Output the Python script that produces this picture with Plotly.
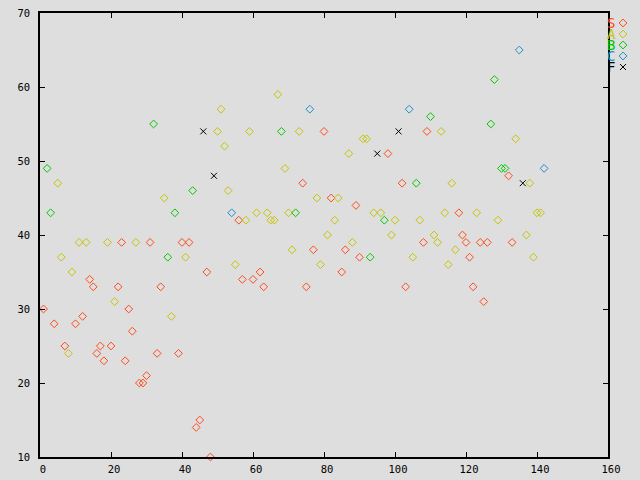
import plotly.graph_objects as go

# ---- data ----
s_x = [1, 4, 7, 10, 12, 14, 15, 16, 17, 18, 20, 22, 23, 24, 25, 26, 28, 29, 30, 31, 33, 34, 39, 40,
       42, 44, 45, 47, 48, 56, 57, 60, 62, 63, 74, 75, 77, 80, 82, 85, 86, 89, 90, 98, 102, 103,
       108, 109, 118, 119, 120, 121, 122, 124, 125, 126, 132, 133]
s_y = [30, 28, 25, 28, 29, 34, 33, 24, 25, 23, 25, 33, 39, 23, 30, 27, 20, 20, 21, 39, 24, 33, 24, 39,
       39, 14, 15, 35, 10, 42, 34, 34, 35, 33, 47, 33, 38, 54, 45, 35, 38, 44, 37, 51, 47, 33,
       39, 54, 43, 40, 39, 37, 33, 39, 31, 39, 48, 39]

a_x = [5, 6, 8, 9, 11, 13, 19, 21, 27, 35, 37, 41, 50, 51, 52, 53, 55, 58, 59, 61, 64, 65, 66, 67,
       69, 70, 71, 73, 78, 79, 81, 83, 84, 87, 88, 91, 92, 94, 96, 99, 100, 105, 107, 111, 112,
       113, 114, 115, 116, 117, 123, 129, 134, 137, 138, 139, 140, 141]
a_y = [47, 37, 24, 35, 39, 39, 39, 31, 39, 45, 29, 37, 54, 57, 52, 46, 36, 42, 54, 43, 43, 42, 42, 59,
       49, 43, 38, 54, 45, 36, 40, 42, 45, 51, 39, 53, 53, 43, 43, 40, 42, 37, 42, 40, 39,
       54, 43, 36, 47, 38, 43, 42, 53, 40, 47, 37, 43, 43]

b_x = [2, 3, 32, 36, 38, 43, 68, 72, 93, 97, 106, 110, 127, 128, 130, 131]
b_y = [49, 43, 55, 37, 43, 46, 54, 43, 37, 42, 47, 56, 55, 61, 49, 49]

c_x = [54, 76, 104, 135, 142]
c_y = [43, 57, 57, 65, 49]

f_x = [46, 49, 95, 101, 136]
f_y = [54, 48, 51, 54, 47]

series_names = ["S", "A", "B", "C", "F"]
x_ticks = [0, 20, 40, 60, 80, 100, 120, 140, 160]
y_ticks = [10, 20, 30, 40, 50, 60, 70]

# ---- styles ----
colors = ["#ff4a1a", "#c4c400", "#00c800", "#1a90c8", "#000000"]
symbols = ["diamond-open", "diamond-open", "diamond-open", "diamond-open", "x-thin-open"]
sizes = [6, 6, 6, 6, 6]
BG = "#dedede"
FONT = "DejaVu Sans Mono"

W, H = 640, 480
L, R_EDGE, T, B = 40, 608, 13, 23
plot_w = W - L
main_frac = (R_EDGE - L) / plot_w

fig = go.Figure()
data = [(s_x, s_y), (a_x, a_y), (b_x, b_y), (c_x, c_y), (f_x, f_y)]
for i, (xs, ys) in enumerate(data):
    fig.add_trace(go.Scatter(
        x=xs, y=ys, mode="markers", name=series_names[i], showlegend=False,
        marker=dict(symbol=symbols[i], size=sizes[i], color=colors[i],
                    line=dict(color=colors[i], width=1)),
        cliponaxis=False,
    ))

# legend keys on a small side axis
leg_h = H - T - B
for i, name in enumerate(series_names):
    yy = 1 - (10 + 11 * i) / leg_h
    fig.add_trace(go.Scatter(
        x=[(623 - R_EDGE) / (W - R_EDGE)], y=[yy], mode="markers", showlegend=False,
        xaxis="x2", yaxis="y2", hoverinfo="skip",
        marker=dict(symbol=symbols[i], size=sizes[i], color=colors[i],
                    line=dict(color=colors[i], width=1)),
    ))
    fig.add_annotation(
        x=(611 - R_EDGE) / (W - R_EDGE), y=yy, xref="x2", yref="y2",
        text=name, showarrow=False, xanchor="center", yanchor="middle",
        font=dict(family=FONT, size=14, color=colors[i]),
    )

axis_common = dict(
    showline=True, linecolor="black", linewidth=1.5, mirror="allticks",
    ticks="inside", ticklen=5, tickwidth=1.2, tickcolor="black",
    showgrid=False, zeroline=False, automargin=False,
    tickfont=dict(family=FONT, size=10.5, color="black"),
)

fig.update_layout(
    width=W, height=H,
    margin=dict(l=L, r=0, t=T, b=B, pad=0, autoexpand=False),
    paper_bgcolor=BG, plot_bgcolor=BG,
    showlegend=False,
    xaxis=dict(range=[0, 160], tickvals=x_ticks, domain=[0, main_frac],
               ticklabelshift=3, ticklabelstandoff=2, **axis_common),
    yaxis=dict(range=[10, 70], tickvals=y_ticks, ticklabelstandoff=6, **axis_common),
    xaxis2=dict(domain=[main_frac, 1], range=[0, 1], visible=False, anchor="y2",
                automargin=False),
    yaxis2=dict(domain=[0, 1], range=[0, 1], visible=False, anchor="x2",
                automargin=False),
)

fig.write_html(
    "out.html",
    config={"displayModeBar": False},
    post_script="document.body.style.margin='0';document.body.style.padding='0';"
                "document.body.style.overflow='hidden';"
                "document.body.style.background='" + BG + "';",
)
